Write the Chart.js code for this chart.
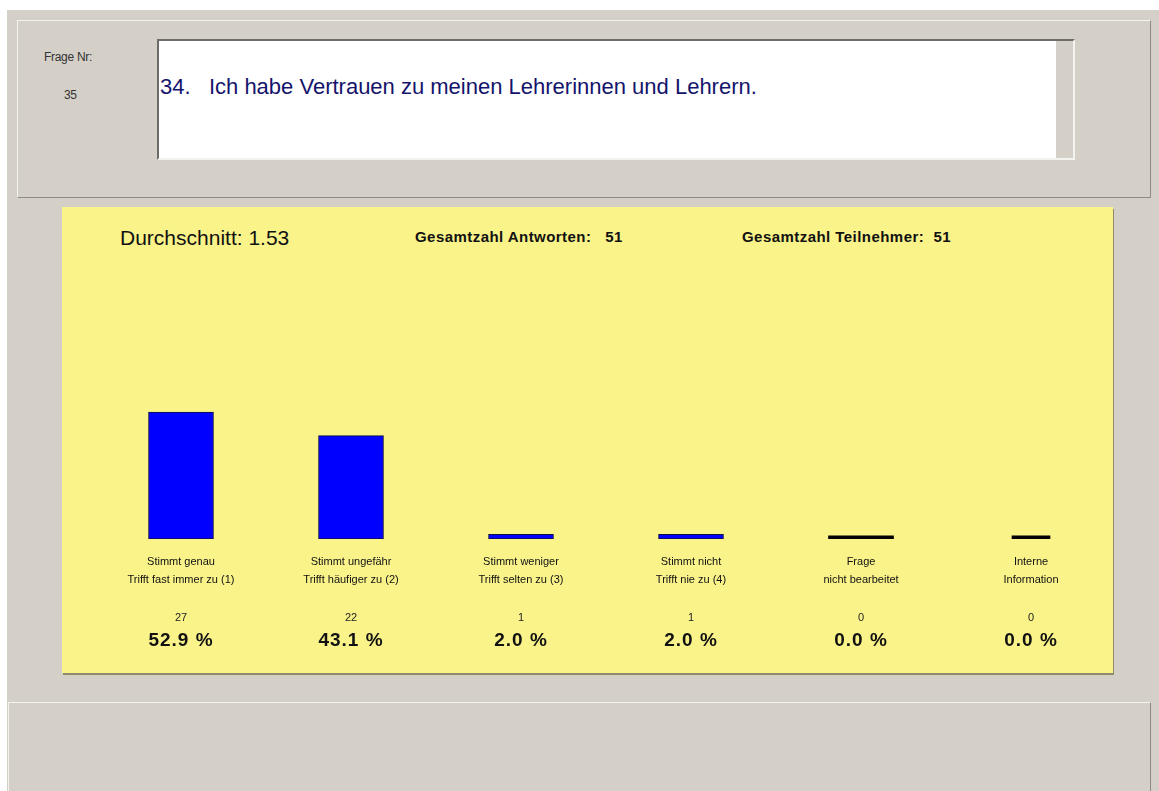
<!DOCTYPE html>
<html>
<head>
<meta charset="utf-8">
<script src="https://cdn.jsdelivr.net/npm/chart.js@4/dist/chart.umd.min.js"></script>
<style>
  body { margin: 0; background: #fff; font-family: "Liberation Sans", Arial, sans-serif; }
  .win { position: absolute; left: 7px; top: 10px; width: 1152px; height: 781px; background: #d4d0c8; }
  .panel { position: absolute; box-sizing: border-box; border: 1px solid; border-color: #f4f2ee #8e8b85 #8e8b85 #f4f2ee; }
  #top { left: 17px; top: 20px; width: 1134px; height: 178px; }
  #bottom { left: 8px; top: 702px; width: 1143px; height: 100px; }
  .lbl { position: absolute; font-size: 12px; color: #333; letter-spacing: -0.3px; }
  #qbox { position: absolute; left: 157px; top: 39px; width: 918px; height: 121px; box-sizing: border-box;
    background: #fff; border: 2px solid; border-color: #6e6c68 #f4f2ee #f4f2ee #6e6c68; }
  #qbox .strip { position: absolute; right: 0; top: 0; width: 17px; height: 100%; background: #d4d0c8; }
  #question { position: absolute; left: 160px; top: 74px; font-size: 22px; color: #14146c; white-space: pre; }
  #yellow { position: absolute; left: 62px; top: 207px; width: 1051px; height: 466px; background: #f9f38a;
    box-shadow: 1px 2px 0 #8f8b6a; }
  .head { position: absolute; color: #111; white-space: pre; }
  .bold { font-size: 15px; font-weight: bold; letter-spacing: 0.45px; }
  #chartWrap { position: absolute; left: 62px; top: 207px; width: 1070px; height: 466px; }
</style>
</head>
<body>
<div class="win"></div>
<div class="panel" id="top"></div>
<div class="panel" id="bottom"></div>
<div class="lbl" style="left:44px; top:50px;">Frage Nr:</div>
<div class="lbl" style="left:64px; top:88px;">35</div>
<div id="qbox"><div class="strip"></div></div>
<div id="question"></div>
<div id="yellow"></div>
<div class="head" id="avg" style="left:120px; top:226px; font-size:21px;"></div>
<div class="head bold" id="answers" style="left:415px; top:228px;"></div>
<div class="head bold" id="participants" style="left:742px; top:228px;"></div>
<div id="chartWrap"><canvas id="myChart"></canvas></div>
<script>
const questionNo = "34.";
const questionText = "Ich habe Vertrauen zu meinen Lehrerinnen und Lehrern.";
const average = "1.53";
const totalAnswers = 51;
const totalParticipants = 51;

const categories = [
  ["Stimmt genau", "Trifft fast immer zu (1)"],
  ["Stimmt ungefähr", "Trifft häufiger zu (2)"],
  ["Stimmt weniger", "Trifft selten zu (3)"],
  ["Stimmt nicht", "Trifft nie zu (4)"],
  ["Frage", "nicht bearbeitet"],
  ["Interne", "Information"],
];
const counts = [27, 22, 1, 1, 0, 0];
const percentLabels = ["52.9 %", "43.1 %", "2.0 %", "2.0 %", "0.0 %", "0.0 %"];

document.getElementById("question").textContent = questionNo + "   " + questionText;
document.getElementById("avg").textContent = "Durchschnitt: " + average;
document.getElementById("answers").textContent = "Gesamtzahl Antworten:   " + totalAnswers;
document.getElementById("participants").textContent = "Gesamtzahl Teilnehmer:  " + totalParticipants;

// counts and percent lines under the category labels
const valueLabels = {
  id: "valueLabels",
  afterDraw(chart) {
    const ctx = chart.ctx;
    const x = chart.scales.x;
    const base = chart.chartArea.bottom;
    ctx.save();
    ctx.textAlign = "center";
    ctx.textBaseline = "middle";
    counts.forEach((c, i) => {
      const px = x.getPixelForValue(i);
      ctx.letterSpacing = "0px";
      ctx.fillStyle = "#222";
      ctx.font = "11px 'Liberation Sans', Arial";
      ctx.fillText(String(c), px, base + 79);
      ctx.letterSpacing = "1px";
      ctx.fillStyle = "#111";
      ctx.font = "bold 19px 'Liberation Sans', Arial";
      ctx.fillText(percentLabels[i], px, base + 102);
    });
    ctx.restore();
  },
};

const barColor = (v) => (v > 0 ? "#0000ff" : "#000000");

new Chart(document.getElementById("myChart"), {
  type: "bar",
  data: {
    labels: categories,
    datasets: [
      {
        data: counts.map((v, i) => (i < 5 ? v : null)),
        backgroundColor: counts.map(barColor),
        borderColor: "#101040",
        borderWidth: counts.map((v) => (v > 0 ? 1 : 0)),
        borderSkipped: false,
        barThickness: 65,
        minBarLength: 3,
        grouped: false,
      },
      {
        data: counts.map((v, i) => (i === 5 ? v : null)),
        backgroundColor: counts.map(barColor),
        borderColor: "#101040",
        borderWidth: counts.map((v) => (v > 0 ? 1 : 0)),
        borderSkipped: false,
        barThickness: 38,
        minBarLength: 3,
        grouped: false,
      },
    ],
  },
  options: {
    responsive: true,
    maintainAspectRatio: false,
    animation: false,
    layout: { padding: { left: 34, right: 16, top: 191, bottom: 70 } },
    plugins: { legend: { display: false }, tooltip: { enabled: false } },
    scales: {
      x: {
        grid: { display: false, drawTicks: false },
        border: { display: false },
        ticks: {
          color: "#111",
          font: { family: "'Liberation Sans', Arial", size: 11, lineHeight: 1.64 },
          padding: 14,
          maxRotation: 0,
          autoSkip: false,
        },
      },
      y: { display: false, min: 0, max: 30 },
    },
  },
  plugins: [valueLabels],
});
</script>
</body>
</html>
